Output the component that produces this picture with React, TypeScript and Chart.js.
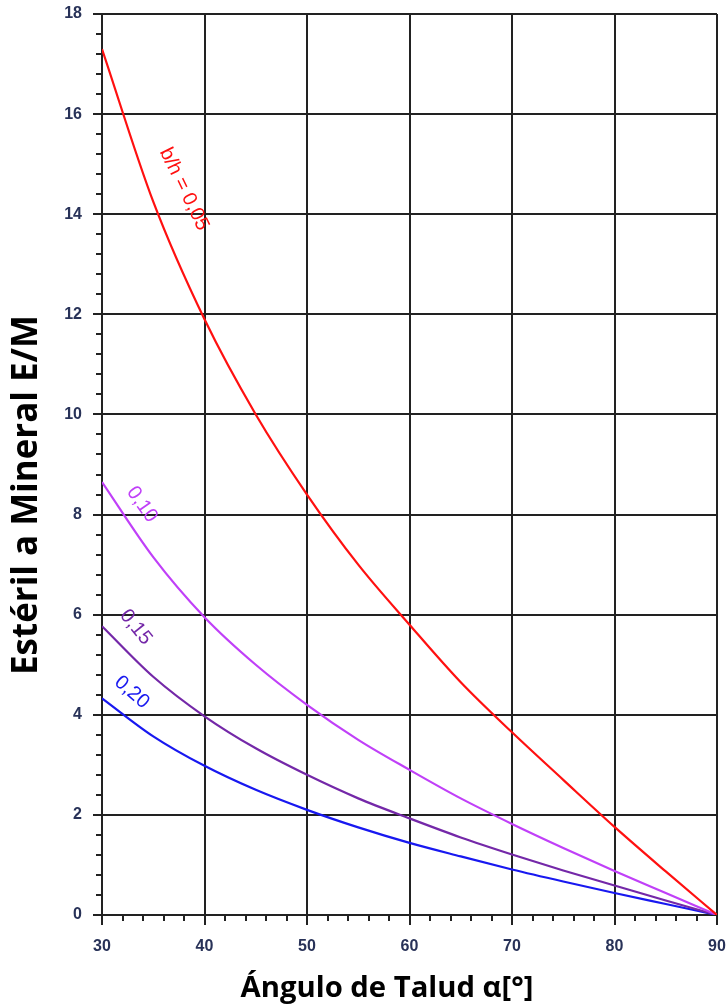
import React, { useEffect, useRef } from "react";
import { Chart, registerables } from "chart.js";

Chart.register(...registerables);

const angles = [30, 35, 40, 45, 50, 55, 60, 65, 70, 75, 80, 85, 90];
const bh005 = [17.3, 14.25, 11.9, 10.0, 8.4, 7.0, 5.8, 4.65, 3.65, 2.7, 1.76, 0.87, 0];
const bh010 = [8.65, 7.15, 5.95, 5.0, 4.2, 3.5, 2.9, 2.33, 1.82, 1.34, 0.88, 0.44, 0];
const bh015 = [5.77, 4.76, 3.97, 3.33, 2.8, 2.33, 1.93, 1.55, 1.21, 0.89, 0.59, 0.29, 0];
const bh020 = [4.33, 3.57, 2.98, 2.5, 2.1, 1.75, 1.44, 1.17, 0.91, 0.67, 0.44, 0.22, 0];

const seriesLabels = ["b/h = 0,05", "0,10", "0,15", "0,20"];
const seriesColors = ["#ff1010", "#c040f8", "#7428a8", "#1818f0"];
// label anchor positions in data coordinates [angle, value, rotation deg]
const labelAnchors: [number, number, number][] = [
  [38.0, 14.5, 64],
  [33.9, 8.2, 55],
  [33.3, 5.75, 51],
  [32.9, 4.45, 41],
];

const xTitle = "Ángulo de Talud α[°]";
const yTitle = "Estéril a Mineral E/M";
const xMin = 30, xMax = 90, xStep = 10, xMinor = 2;
const yMin = 0, yMax = 18, yStep = 2, yMinor = 0.4;

export default function App() {
  const ref = useRef<HTMLCanvasElement>(null);
  useEffect(() => {
    if (!ref.current) return;
    const series = [bh005, bh010, bh015, bh020];
    const extras = {
      id: "extras",
      afterDraw(chart: any) {
        const ctx = chart.ctx;
        const xs = chart.scales.x;
        const ys = chart.scales.y;
        ctx.save();
        // minor ticks
        ctx.strokeStyle = "#222";
        ctx.lineWidth = 2;
        ctx.beginPath();
        for (let v = xMin; v <= xMax + 1e-6; v += xMinor) {
          if (Math.abs((v - xMin) % xStep) < 1e-6) continue;
          const px = Math.round(xs.getPixelForValue(v));
          ctx.moveTo(px, ys.bottom);
          ctx.lineTo(px, ys.bottom + 6);
        }
        for (let v = yMin; v <= yMax + 1e-6; v += yMinor) {
          const r = (v - yMin) / yStep;
          if (Math.abs(r - Math.round(r)) < 1e-6) continue;
          const py = Math.round(ys.getPixelForValue(v));
          ctx.moveTo(xs.left, py);
          ctx.lineTo(xs.left - 6, py);
        }
        ctx.stroke();
        // curve labels
        labelAnchors.forEach((a, i) => {
          const px = xs.getPixelForValue(a[0]);
          const py = ys.getPixelForValue(a[1]);
          ctx.save();
          ctx.translate(px, py);
          ctx.rotate((a[2] * Math.PI) / 180);
          ctx.fillStyle = seriesColors[i];
          ctx.font = "20px 'Liberation Sans', Arial, sans-serif";
          ctx.textAlign = "center";
          ctx.textBaseline = "middle";
          ctx.fillText(seriesLabels[i], 0, 0);
          ctx.restore();
        });
        // titles
        ctx.fillStyle = "#000";
        ctx.textBaseline = "alphabetic";
        ctx.textAlign = "center";
        ctx.font = "bold 24px 'Open Sans', sans-serif";
        let w = ctx.measureText(xTitle).width;
        let size = (24 * 293) / w;
        ctx.font = `bold ${size}px 'Open Sans', sans-serif`;
        ctx.fillText(xTitle, 387, 997);
        ctx.font = "bold 24px 'Open Sans', sans-serif";
        w = ctx.measureText(yTitle).width;
        size = (24 * 360) / w;
        ctx.font = `bold ${size}px 'Open Sans', sans-serif`;
        ctx.save();
        ctx.translate(27, 495);
        ctx.rotate(-Math.PI / 2);
        ctx.textBaseline = "middle";
        ctx.fillText(yTitle, 0, 0);
        ctx.restore();
        ctx.restore();
      },
    };
    const tickFont = { family: "'Liberation Sans', Arial, sans-serif", size: 16, weight: "bold" as const };
    const chart = new Chart(ref.current, {
      type: "line",
      data: {
        datasets: series.map((s, i) => ({
          label: seriesLabels[i],
          data: angles.map((a, j) => ({ x: a, y: s[j] })),
          borderColor: seriesColors[i],
          borderWidth: 2.2,
          pointRadius: 0,
          tension: 0.4,
          cubicInterpolationMode: "monotone" as const,
          fill: false,
        })),
      },
      options: {
        animation: false,
        responsive: false,
        maintainAspectRatio: false,
        layout: { padding: { top: 14, right: 11, left: 0, bottom: 0 } },
        plugins: { legend: { display: false }, tooltip: { enabled: false } },
        scales: {
          x: {
            type: "linear",
            min: xMin,
            max: xMax,
            ticks: {
              stepSize: xStep,
              color: "#283258",
              font: tickFont,
              padding: 12,
              maxRotation: 0,
            },
            grid: { color: "#222", lineWidth: 2, tickLength: 10, drawTicks: true },
            border: { color: "#222", width: 2 },
            afterFit: (s: any) => { s.height = 91; s.paddingLeft = 0; s.paddingRight = 0; },
          },
          y: {
            type: "linear",
            min: yMin,
            max: yMax,
            ticks: {
              stepSize: yStep,
              color: "#283258",
              font: tickFont,
              padding: 11,
            },
            grid: { color: "#222", lineWidth: 2, tickLength: 9, drawTicks: true },
            border: { color: "#222", width: 2 },
            afterFit: (s: any) => { s.width = 102; s.paddingTop = 0; s.paddingBottom = 0; },
          },
        },
      },
      plugins: [extras],
    });
    return () => chart.destroy();
  }, []);
  return (
    <div style={{ position: "absolute", left: 0, top: 0, width: 728, height: 1006, background: "#fff" }}>
      <canvas ref={ref} width={728} height={1006} style={{ display: "block" }} />
    </div>
  );
}
